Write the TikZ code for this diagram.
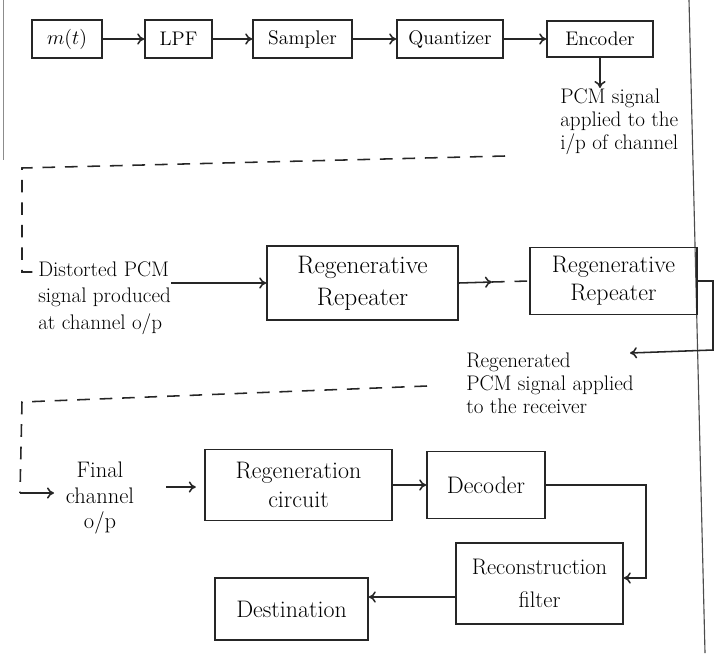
\documentclass[tikz,border=0pt]{standalone}
\usetikzlibrary{arrows.meta}
\begin{document}
\begin{tikzpicture}[x=0.025cm,y=-0.025cm,
  pen/.style={line width=1.1pt, draw=black!85},
  blk/.style 2 args={pen, rectangle, inner sep=0pt, minimum width=#1*0.025cm, minimum height=#2*0.025cm, align=center},
  arr/.style={pen, -{To[length=5pt,width=8pt]}},
  dashln/.style={pen, dash pattern=on 9pt off 7pt},
  lbl/.style={inner sep=0pt},
  f14/.style={font=\fontsize{14}{17}\selectfont},
  f15/.style={font=\fontsize{15}{16.5}\selectfont},
  f15b/.style={font=\fontsize{15}{19}\selectfont},
  f16/.style={font=\fontsize{16}{18}\selectfont},
  f16b/.style={font=\fontsize{16}{24}\selectfont},
  f17/.style={font=\fontsize{17}{20}\selectfont},
  f17b/.style={font=\fontsize{17}{21}\selectfont},
  f18/.style={font=\fontsize{18}{23}\selectfont},
]
\useasboundingbox (0,0) rectangle (715,653);
\fill[white] (0,0) rectangle (715,653);
% page margin lines
\draw[line width=0.8pt, black!70] (689,0) -- (705,653);
\draw[line width=0.6pt, black!45] (3,0) -- (3,160);

% row 1
\node[blk={70}{38}, f14] (mt) at (67,39) {$m(t)$};
\node[blk={67}{38}, f14] (lpf) at (178.5,39) {LPF};
\node[blk={99}{38}, f14] (smp) at (302.5,39) {Sampler};
\node[blk={106}{38}, f14] (qtz) at (450,39) {Quantizer};
\node[blk={106}{36}, f14] (enc) at (600,39) {Encoder};
\draw[arr] (mt) -- (lpf);
\draw[arr] (lpf) -- (smp);
\draw[arr] (smp) -- (qtz);
\draw[arr] (qtz) -- (enc);
\node[lbl, f15, anchor=north west, align=left] (pcm) at (560,88) {PCM signal\\applied to the\\i/p of channel};
\draw[arr] (enc.south) -- (enc.south |- pcm.north);

% channel link 1
\coordinate (a1) at (505,156);
\coordinate (a2) at (22,168);
\coordinate (a3) at (22,272);
\node[lbl, f15b, anchor=west, align=left] (dist) at (38,298) {Distorted PCM\\signal produced\\at channel o/p};
\draw[dashln] (a1) -- (a2) -- (a3) -- (a3 -| dist.west);

% repeaters
\node[blk={191}{74}, f18] (rr1) at (362.5,283) {Regenerative\\Repeater};
\node[blk={167}{67}, f17] (rr2) at (613.5,281) {Regenerative\\Repeater};
\draw[arr] (rr1.west -| dist.east) -- (rr1.west);
\coordinate (b1) at (492,282);
\draw[arr] (rr1.east) -- (b1);
\draw[dashln] (b1) -- (rr2.west);
\coordinate (r1) at (713,350);
\coordinate (r2) at (630,353);
\draw[arr] (rr2.east) -- (rr2.east -| r1) -- (r1) -- (r2);
\node[lbl, f15, anchor=west, align=left] (regtxt) at (466,383) {Regenerated\\PCM signal applied\\to the receiver};

% channel link 2
\coordinate (e1) at (427,386);
\coordinate (e2) at (22,402);
\coordinate (e3) at (20,493);
\coordinate (e4) at (54,493);
\draw[dashln] (e1) -- (e2) -- (e3);
\draw[arr] (e3) -- (e4);
\node[lbl, f16, align=center] (fin) at (100,498) {Final\\channel\\o/p};

% receiver
\node[blk={187}{71}, f17b] (regen) at (298.5,485) {Regeneration\\circuit};
\node[blk={118}{67}, f17] (dec) at (486,485) {Decoder};
\node[blk={167}{81}, f16b] (rec) at (539.5,583.5) {Reconstruction\\filter};
\node[blk={153}{62}, f17] (dst) at (291.5,609) {Destination};
\coordinate (f1) at (166,487);
\draw[arr, shorten >=6pt] (f1) -- (f1 -| regen.west);
\draw[arr] (regen.east) -- (dec.west);
\coordinate (k1) at (646,578);
\draw[arr] (dec.east) -- (dec.east -| k1) -- (k1) -- (k1 -| rec.east);
\coordinate (m1) at (0,597);
\draw[arr] (rec.west |- m1) -- (dst.east |- m1);
\end{tikzpicture}
\end{document}
